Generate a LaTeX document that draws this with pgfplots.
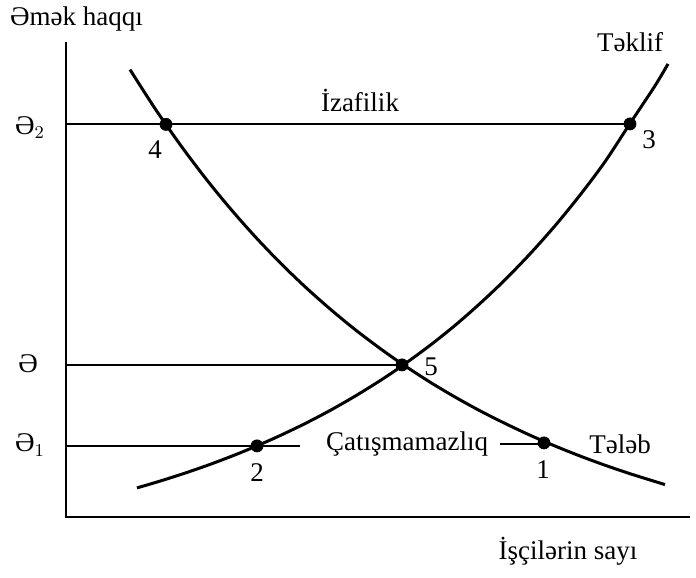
\documentclass[border=0pt]{standalone}
\usepackage{pgfplots}
\pgfplotsset{compat=1.18}
\usepackage{fontspec}
\setmainfont{Liberation Serif}
\newcommand\lf{\fontsize{13.5}{16}\selectfont}
\begin{document}
\begin{tikzpicture}
\begin{axis}[
  hide axis, scale only axis, width=348pt, height=287pt,
  xmin=0, xmax=696, ymin=0, ymax=574, y dir=reverse, clip=false
]
% frame for the bounding box
\addplot[draw=none, forget plot] coordinates {(0,0) (696,574)};
% axes
\addplot[black, line width=1pt] coordinates {(66,38) (66,513) (690,513)};
% horizontal levels
\addplot[black, line width=0.9pt] coordinates {(66,120) (630,120)};
\addplot[black, line width=0.9pt] coordinates {(66,361) (402,361)};
\addplot[black, line width=0.9pt] coordinates {(66,442) (300,442)};
\addplot[black, line width=0.9pt] coordinates {(500,440) (544,440)};
% demand (Tələb)
\addplot[black, line width=1.5pt, smooth] coordinates {
(130,65.7) (155,104.6) (180,140.5) (205,173.7) (230,204.3) (255,232.6) (280,258.7)
(305,282.8) (330,305.0) (355,325.6) (380,344.5) (402,360.0) (430,378.2) (455,393.1)
(480,406.9) (505,419.5) (530,431.3) (555,442.1) (580,452.1) (605,461.3) (630,469.8) (665,480.7)};
% supply (Təklif)
\addplot[black, line width=1.5pt, smooth] coordinates {
(137,484.0) (160,477.2) (185,469.2) (210,460.5) (235,451.0) (257,441.9) (280,431.7)
(305,419.7) (330,406.6) (355,392.3) (380,376.8) (402,362.0) (430,341.5) (455,321.5)
(480,299.6) (505,275.9) (530,250.0) (555,221.9) (580,191.2) (605,157.8) (630,119.6)
(655,81.9) (668,60.0)};
% points
\addplot[only marks, mark=*, mark size=3pt, black] coordinates {(166,120.5) (630,120) (402,361) (257,442) (544,439)};
% labels
\node[font=\lf, anchor=west] at (axis cs:3,15) {Əmək haqqı};
\node[font=\lf] at (axis cs:630,38) {Təklif};
\node[font=\lf] at (axis cs:360,97) {İzafilik};
\node[font=\lf] at (axis cs:30,124) {Ə$_2$};
\node[font=\lf] at (axis cs:28,360) {Ə};
\node[font=\lf] at (axis cs:30,441) {Ə$_1$};
\node[font=\lf] at (axis cs:155,146) {4};
\node[font=\lf] at (axis cs:649,136) {3};
\node[font=\lf] at (axis cs:431,363) {5};
\node[font=\lf] at (axis cs:257,469) {2};
\node[font=\lf] at (axis cs:543,466) {1};
\node[font=\lf] at (axis cs:407,440) {Çatışmamazlıq};
\node[font=\lf] at (axis cs:620,440) {Tələb};
\node[font=\lf] at (axis cs:568,547) {İşçilərin sayı};
\end{axis}
\end{tikzpicture}
\end{document}
